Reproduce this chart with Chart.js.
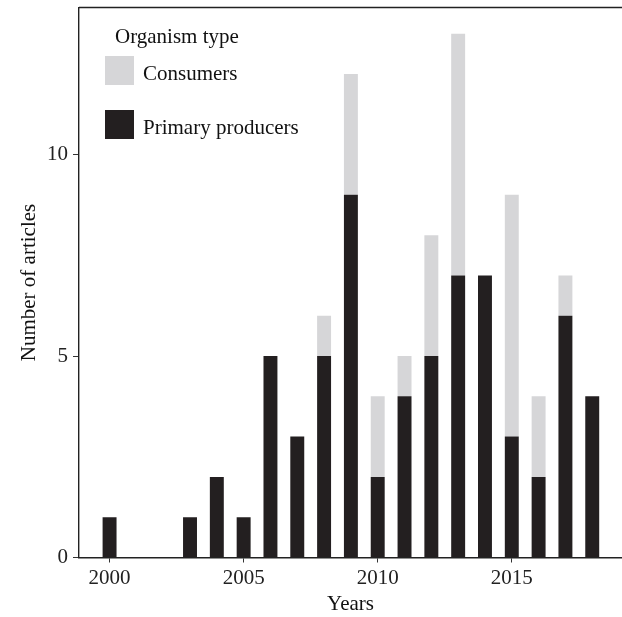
<!DOCTYPE html>
<html>
<head>
<meta charset="utf-8">
<script src="https://cdn.jsdelivr.net/npm/chart.js@4.4.1/dist/chart.umd.min.js"></script>
<style>
  html, body { margin: 0; padding: 0; background: #fff; }
</style>
</head>
<body>
<canvas id="chart" width="622" height="617"></canvas>
<script>
// articles per year, split by organism type
const years = [2000, 2001, 2002, 2003, 2004, 2005, 2006, 2007, 2008, 2009, 2010, 2011, 2012, 2013, 2014, 2015, 2016, 2017, 2018];
const primaryProducers = [1, 0, 0, 1, 2, 1, 5, 3, 5, 9, 2, 4, 5, 7, 7, 3, 2, 6, 4];
const consumers = [0, 0, 0, 0, 0, 0, 0, 0, 1, 3, 2, 1, 3, 6, 0, 6, 2, 1, 0];
const xTicks = [2000, 2005, 2010, 2015];
const yTicks = [0, 5, 10];
const legendTitle = 'Organism type';

const FONT = "'Liberation Serif', 'Times New Roman', serif";
const DARK = '#231f20';
const LIGHT = '#d6d6d8';

// legend sits inside the panel, top-left, like the ggplot original
const insideLegend = {
  id: 'insideLegend',
  afterDraw(chart) {
    const { ctx, chartArea } = chart;
    const x0 = chartArea.left;
    const y0 = chartArea.top;
    ctx.save();
    ctx.font = '21px ' + FONT;
    ctx.fillStyle = '#111';
    ctx.textBaseline = 'alphabetic';
    ctx.fillText(legendTitle, x0 + 36, y0 + 35);
    const sets = chart.data.datasets.slice().reverse();
    sets.forEach((ds, i) => {
      const by = y0 + 48.5 + i * 54;
      ctx.fillStyle = ds.backgroundColor;
      ctx.fillRect(x0 + 26, by, 29, 29);
      ctx.fillStyle = '#111';
      ctx.fillText(ds.label, x0 + 64, by + 24);
    });
    ctx.restore();
  }
};

// ggplot-style top rule of the panel
const topRule = {
  id: 'topRule',
  afterDraw(chart) {
    const { ctx, chartArea } = chart;
    ctx.save();
    ctx.strokeStyle = '#222';
    ctx.lineWidth = 1.4;
    ctx.beginPath();
    ctx.moveTo(chartArea.left, chartArea.top);
    ctx.lineTo(chartArea.right, chartArea.top);
    ctx.stroke();
    ctx.restore();
  }
};

new Chart(document.getElementById('chart'), {
  type: 'bar',
  data: {
    datasets: [
      { label: 'Primary producers', data: years.map((y, i) => ({ x: y, y: primaryProducers[i] })), backgroundColor: DARK, borderWidth: 0 },
      { label: 'Consumers', data: years.map((y, i) => ({ x: y, y: consumers[i] })), backgroundColor: LIGHT, borderWidth: 0 }
    ]
  },
  options: {
    responsive: false,
    animation: false,
    layout: { padding: { top: 7.5, right: 0, bottom: 0, left: 0 } },
    datasets: { bar: { categoryPercentage: 1, barPercentage: 0.52 } },
    plugins: { legend: { display: false }, tooltip: { enabled: false } },
    scales: {
      x: {
        type: 'linear',
        stacked: true,
        offset: false,
        min: 1998.86,
        max: 2019.11,
        afterBuildTicks: s => { s.ticks = xTicks.map(v => ({ value: v })); },
        afterFit: s => { s.height = 59.5; s.paddingLeft = 0; s.paddingRight = 0; },
        ticks: { color: '#222', font: { family: FONT, size: 21 }, padding: 3, callback: v => String(v), maxRotation: 0 },
        grid: { display: true, offset: false, drawOnChartArea: false, drawTicks: true, tickLength: 5, color: '#333' },
        border: { display: true, color: '#222', width: 1.4 },
        title: { display: true, text: 'Years', color: '#111', font: { family: FONT, size: 21 }, padding: { top: 0, bottom: 0 } }
      },
      y: {
        stacked: true,
        min: 0,
        max: 13.65,
        afterBuildTicks: s => { s.ticks = yTicks.map(v => ({ value: v })); },
        afterFit: s => { s.width = 79; s.paddingTop = 0; s.paddingBottom = 0; },
        ticks: { color: '#222', font: { family: FONT, size: 21 }, padding: 5 },
        grid: { display: true, drawOnChartArea: false, drawTicks: true, tickLength: 6, color: '#333' },
        border: { display: true, color: '#222', width: 1.4 },
        title: { display: true, text: 'Number of articles', color: '#111', font: { family: FONT, size: 21 }, padding: { top: 17, bottom: 0 } }
      }
    }
  },
  plugins: [insideLegend, topRule]
});
</script>
</body>
</html>
